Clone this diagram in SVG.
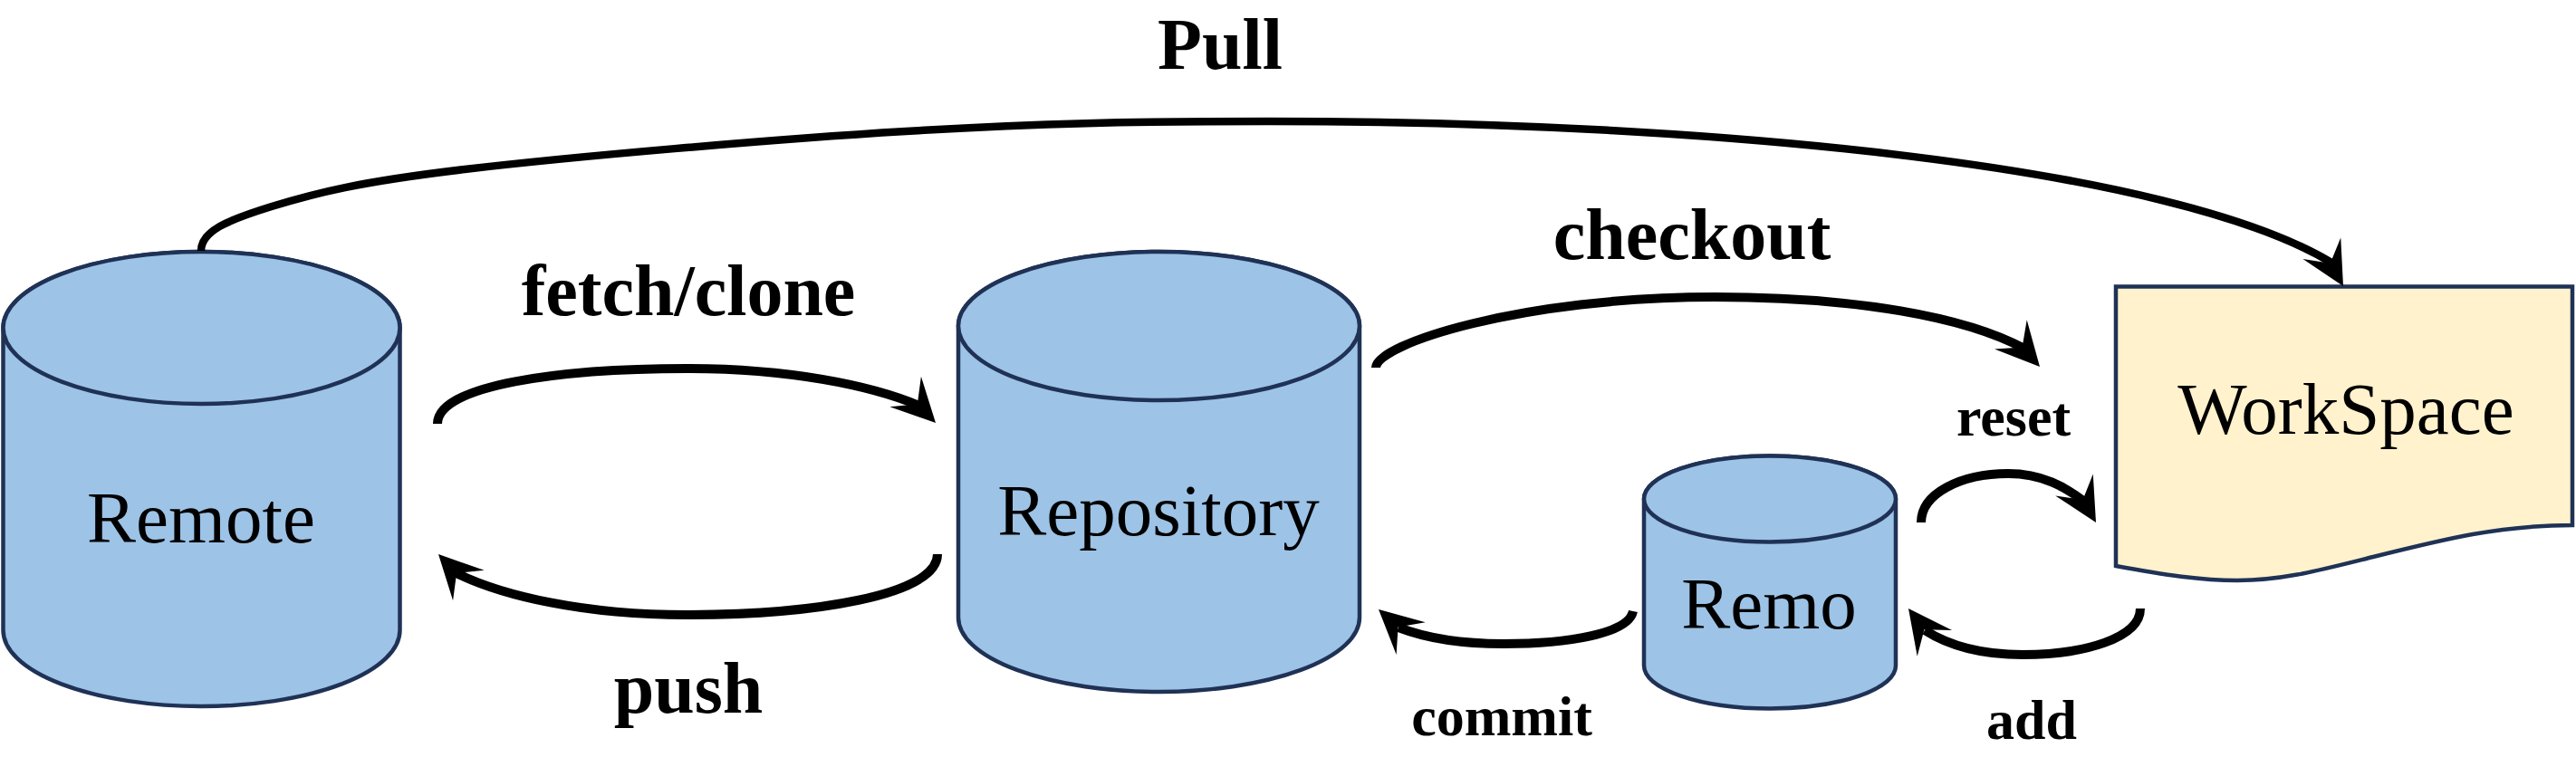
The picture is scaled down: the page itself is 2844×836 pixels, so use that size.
<svg xmlns="http://www.w3.org/2000/svg" xmlns:xlink="http://www.w3.org/1999/xlink" width="2844" height="836" viewBox="0 0 2844 836">
<style>
.cyl{fill:#9DC3E6;stroke:#1F3256;stroke-width:4.5;stroke-linejoin:round}
.doc{fill:#FFF2CC;stroke:#1F3256;stroke-width:4.5}
.lbl{font-family:"Liberation Serif","Times New Roman",serif;font-size:81px;fill:#000;text-anchor:middle}
.op{font-family:"Liberation Serif","Times New Roman",serif;font-weight:bold;font-size:80px;fill:#000;text-anchor:middle}
.ops{font-family:"Liberation Serif","Times New Roman",serif;font-weight:bold;font-size:62px;fill:#000;text-anchor:middle}
.ln{fill:none;stroke:#000;stroke-width:10}
.ah{fill:#000}
</style>
<defs>
<path id="head" class="ah" d="M0,0 L-48,-24 L-29,0 L-48,24 Z"/>
</defs>
<rect width="2844" height="836" fill="#fff"/>

<g id="remote">
<path class="cyl" d="M3.5,362 L3.5,696 A219,84 0 0 0 441.5,696 L441.5,362 A219,84 0 0 0 3.5,362 Z"/>
<ellipse class="cyl" cx="222.5" cy="362" rx="219" ry="84"/>
<text class="lbl" x="222" y="599">Remote</text>
</g>

<g id="repository">
<path class="cyl" d="M1058,360 L1058,682 A221.5,82 0 0 0 1501,682 L1501,360 A221.5,82 0 0 0 1058,360 Z"/>
<ellipse class="cyl" cx="1279.5" cy="360" rx="221.5" ry="82"/>
<text class="lbl" x="1279" y="591">Repository</text>
</g>

<g id="remo">
<path class="cyl" d="M1815,551 L1815,735 A139,47.5 0 0 0 2093,735 L2093,551 A139,47.5 0 0 0 1815,551 Z"/>
<ellipse class="cyl" cx="1954" cy="551" rx="139" ry="47.5"/>
<text class="lbl" x="1953" y="694">Remo</text>
</g>

<g id="workspace">
<path class="doc" d="M2336,316.5 L2840,316.5 L2840,580 C2760,580 2700,595 2620,615 C2560,630 2520,641 2470,641 C2430,641 2390,635 2336,625 Z"/>
<text class="lbl" x="2590" y="479">WorkSpace</text>
</g>

<g id="connectors">
<path class="ln" style="stroke-width:8.5" d="M222,277 C222,255 251.5,243 300,228 C348.5,213 396.3,200.8 513,187 C629.7,173.2 852.2,153.8 1000,145 C1147.8,136.2 1250,134 1400,134 C1900,134 2400,185 2574,290"/>
<use href="#head" transform="translate(2587,316) rotate(60.5)"/>

<path class="ln" d="M483,468 C483,425 620,407 758,407 C870,407 960,425 1015,448"/>
<use href="#head" transform="translate(1033,467) rotate(46)"/>

<path class="ln" d="M1035,612 C1035,658 895,679 758,679 C645,679 555,658 504,633"/>
<use href="#head" transform="translate(484,612) rotate(226)"/>

<path class="ln" d="M1519,406 C1519,380 1680,328 1893,328 C2050,328 2170,350 2235,385"/>
<use href="#head" transform="translate(2252,405) rotate(48)"/>

<path class="ln" d="M2121,577 C2121,545 2165,523 2217,523 C2255,523 2280,538 2300,553"/>
<use href="#head" transform="translate(2314,577) rotate(60)"/>

<path class="ln" d="M2363,672 C2363,705 2300,723 2233,723 C2185,723 2150,712 2125,696"/>
<use href="#head" transform="translate(2107,672) rotate(233)"/>

<path class="ln" d="M1803,675 C1798,700 1730,711 1660,711 C1610,711 1570,703 1544,693"/>
<use href="#head" transform="translate(1522,673) rotate(222)"/>
</g>

<g id="labels">
<text class="op" x="1347" y="76">Pull</text>
<text class="op" x="760" y="348">fetch/clone</text>
<text class="op" x="760" y="787">push</text>
<text class="op" x="1868" y="286">checkout</text>
<text class="ops" x="2223" y="481">reset</text>
<text class="ops" x="1658" y="812">commit</text>
<text class="ops" x="2243" y="816">add</text>
</g>
</svg>
